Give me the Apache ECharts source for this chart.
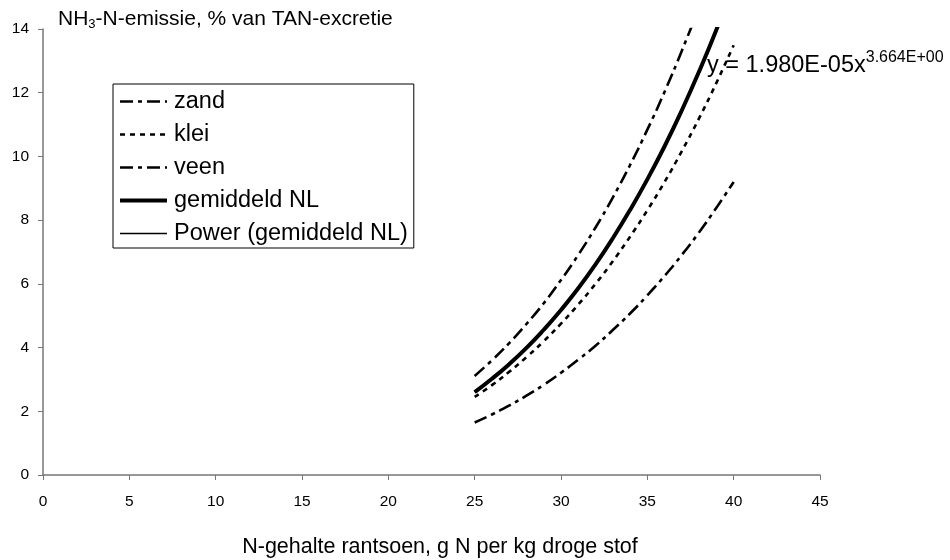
<!DOCTYPE html>
<html><head><meta charset="utf-8">
<script src="https://cdn.jsdelivr.net/npm/echarts@6/dist/echarts.min.js"></script>
<style>html,body{margin:0;padding:0;background:#fff}#c{width:950px;height:560px}</style>
</head><body><div id="c"></div>
<script>
// Data
const xValues = [25,26,27,28,29,30,31,32,33,34,35,36,37,38,39,40];
const zand = [3.11,3.60,4.14,4.74,5.39,6.12,6.91,7.77,8.71,9.73,10.84,12.03,13.32,14.70,16.19,17.79];
const klei = [2.45,2.82,3.24,3.70,4.20,4.75,5.35,6.00,6.71,7.48,8.31,9.20,10.17,11.20,12.31,13.49];
const veen = [1.65,1.90,2.18,2.49,2.83,3.21,3.62,4.06,4.55,5.07,5.64,6.25,6.91,7.62,8.39,9.20];
const gemiddeld = [2.60,3.02,3.48,3.99,4.56,5.18,5.86,6.61,7.43,8.32,9.28,10.32,11.45,12.67,13.98,15.40];
const powerFit = [2.60,3.02,3.48,3.99,4.56,5.18,5.86,6.61,7.43,8.32,9.28,10.32,11.45,12.67,13.98,15.40];
const xTicks = {min:0, max:45, interval:5};
const yTicks = {min:0, max:14, interval:2};
const seriesNames = ['zand','klei','veen','gemiddeld NL','Power (gemiddeld NL)'];
const legendWidths = [2.6, 2.6, 2.6, 4, 1.6];

const pairs = arr => xValues.map((x,i)=>[x,arr[i]]);
const FONT = 'Liberation Sans, Arial, sans-serif';
const chart = echarts.init(document.getElementById('c'), null, {renderer:'canvas'});
const dashDot = [13,5,4,5];
const mk = (name, data, width, type) => ({
  name, type:'line', data: pairs(data), smooth:true, symbol:'none', clip:true,
  lineStyle:{color:'#000', width, type}, itemStyle:{color:'#000'}, z: 2
});
chart.setOption({
  animation:false,
  textStyle:{fontFamily:FONT},
  grid:{left:43, right:130, top:29, bottom:85},
  xAxis:{type:'value', min:xTicks.min, max:xTicks.max, interval:xTicks.interval,
    axisLine:{lineStyle:{color:'#777', width:1.5}}, axisTick:{length:5, lineStyle:{color:'#777'}},
    axisLabel:{color:'#000', fontSize:15.5, margin:19, fontFamily:FONT}, splitLine:{show:false}},
  yAxis:{type:'value', min:yTicks.min, max:yTicks.max, interval:yTicks.interval,
    axisLine:{show:true, lineStyle:{color:'#777', width:1.5}}, axisTick:{show:true, length:5, lineStyle:{color:'#777'}},
    axisLabel:{color:'#000', fontSize:15.5, margin:14, fontFamily:FONT}, splitLine:{show:false}},
  legend:{orient:'vertical', left:113, top:84,
    data:seriesNames.map((n,i)=>({name:n, lineStyle:{width:legendWidths[i]}})),
    borderColor:'#000', borderWidth:1, padding:[5,6,2,5], itemWidth:47, itemHeight:14, itemGap:8,
    itemStyle:{color:'rgba(0,0,0,0)', borderWidth:0, opacity:0},
    textStyle:{fontSize:23.5, lineHeight:25, color:'#000', fontFamily:FONT, padding:[0,0,0,2]}, backgroundColor:'#fff'},
  series:[
    mk('zand', zand, 2.6, dashDot),
    mk('klei', klei, 2.6, [5,5]),
    mk('veen', veen, 2.6, dashDot),
    mk('gemiddeld NL', gemiddeld, 4, 'solid'),
    mk('Power (gemiddeld NL)', powerFit, 1.5, 'solid')
  ],
  graphic:[
    {type:'text', left:58, top:9, style:{
      text:'NH{s|3}-N-emissie, % van TAN-excretie', fill:'#000', font:'21px '+FONT,
      rich:{s:{fontSize:13, fontFamily:FONT, padding:[10,0,0,0], fill:'#000'}}}},
    {type:'text', left:707, top:50, style:{
      text:'y = 1.980E-05x{p|3.664E+00}', fill:'#000', font:'23.5px '+FONT,
      rich:{p:{fontSize:16, fontFamily:FONT, padding:[0,0,16,0], fill:'#000'}}}},
    {type:'text', x:440, y:547, style:{
      text:'N-gehalte rantsoen, g N per kg droge stof', fill:'#000', font:'21.5px '+FONT,
      align:'center', verticalAlign:'middle'}}
  ]
});
</script></body></html>
